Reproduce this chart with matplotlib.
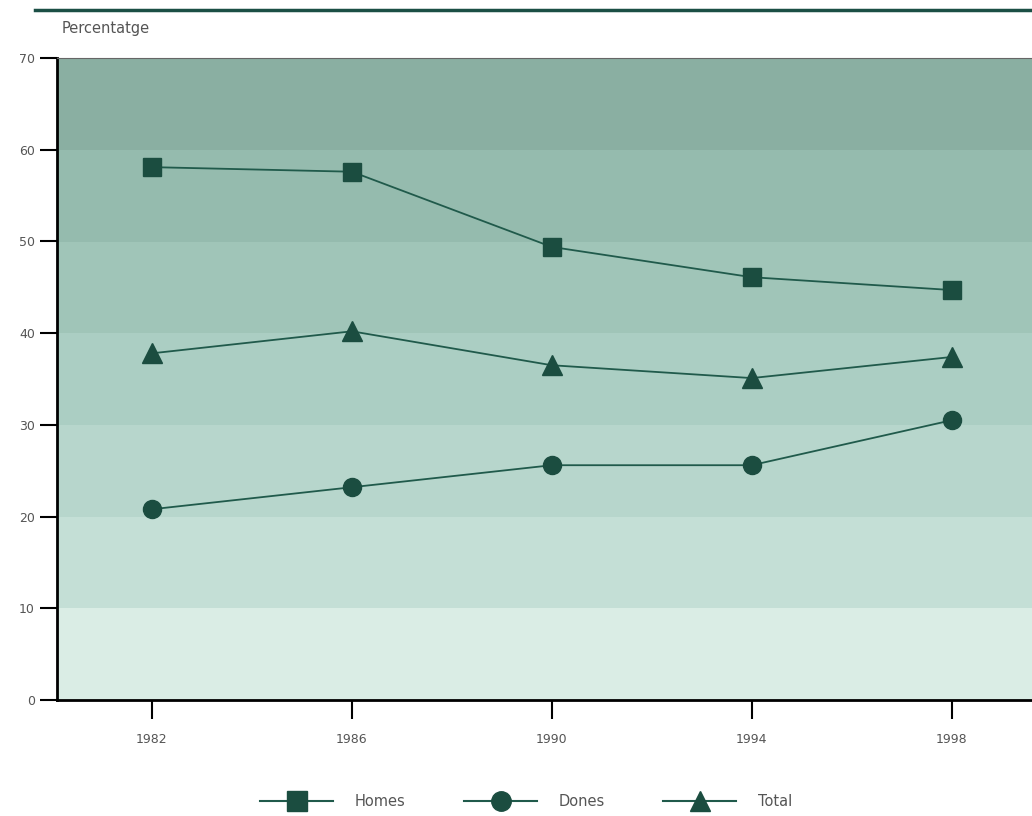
import matplotlib.pyplot as plt
import numpy as np
from matplotlib.colors import ListedColormap
from matplotlib.lines import Line2D

years = [1982, 1986, 1990, 1994, 1998]
homes = [58.1, 57.6, 49.4, 46.1, 44.7]
dones = [20.8, 23.2, 25.6, 25.6, 30.5]
total = [37.8, 40.2, 36.5, 35.1, 37.4]
yticks = [0, 10, 20, 30, 40, 50, 60, 70]
ylabel = "Percentatge"
labels = ["Homes", "Dones", "Total"]

band_colors = ["#daede5", "#c4dfd6", "#b7d6cc", "#abcec3", "#a0c5b8", "#95bbae", "#8aafa2"]

line_c = "#205a4b"
mark_c = "#1b4d40"
text_c = "#555555"

fig = plt.figure(figsize=(10.32, 8.16), dpi=100)
ax = fig.add_axes([57 / 1032, 116 / 816, 1 - 57 / 1032 + 0.002, 642 / 816])

# banded background, darker towards the top
bands = np.arange(len(band_colors)).reshape(-1, 1)
ax.imshow(bands, cmap=ListedColormap(band_colors), aspect="auto", origin="lower",
          extent=(1980.1, 1999.65, 0, 70), zorder=0, interpolation="nearest")

ax.plot(years, homes, color=line_c, lw=1.3, marker="s", ms=13, mfc=mark_c, mec=mark_c, zorder=3)
ax.plot(years, dones, color=line_c, lw=1.3, marker="o", ms=13, mfc=mark_c, mec=mark_c, zorder=3)
ax.plot(years, total, color=line_c, lw=1.3, marker="^", ms=14, mfc=mark_c, mec=mark_c, zorder=3)

ax.set_xlim(1980.1, 1999.65)
ax.set_ylim(0, 70)
ax.set_xticks(years)
ax.set_yticks(yticks)
ax.tick_params(axis="y", length=12, width=1.5, color="black", labelsize=9, labelcolor=text_c, pad=4)
ax.tick_params(axis="x", length=14, width=1.5, color="black", labelsize=9, labelcolor=text_c, pad=10)
for s in ["left", "bottom"]:
    ax.spines[s].set_linewidth(2)
ax.spines["top"].set_linewidth(0.8)
ax.spines["top"].set_color("#666666")
ax.spines["right"].set_visible(False)

fig.text(62 / 1032, 1 - 28 / 816, ylabel, fontsize=10.5, color=text_c, va="center", ha="left")

# dark rule at the top
fig.add_artist(Line2D([35 / 1032, 1.0], [1 - 10 / 816, 1 - 10 / 816], color="#1b4f45", lw=2.5))

handles = [
    Line2D([], [], color=line_c, lw=1.5, marker="s", ms=15, mfc=mark_c, mec=mark_c),
    Line2D([], [], color=line_c, lw=1.5, marker="o", ms=14, mfc=mark_c, mec=mark_c),
    Line2D([], [], color=line_c, lw=1.5, marker="^", ms=15, mfc=mark_c, mec=mark_c),
]
leg = fig.legend(handles, labels, loc="center", bbox_to_anchor=(0.51, 1 - 802 / 816), ncol=3,
                 frameon=False, fontsize=10.5, handlelength=5.0, columnspacing=4.0, handletextpad=1.5)
for t in leg.get_texts():
    t.set_color(text_c)

fig.savefig("out.png", dpi=100)
